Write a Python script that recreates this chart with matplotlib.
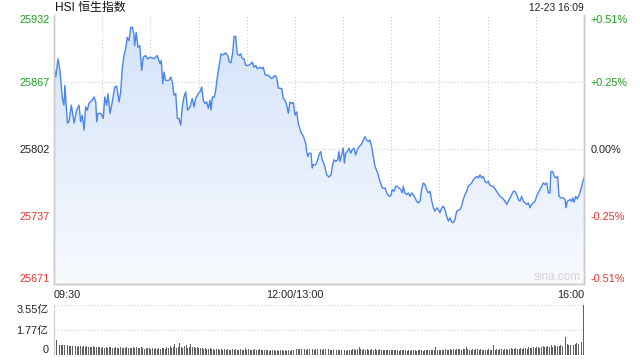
import numpy as np
import matplotlib
matplotlib.use('Agg')
import matplotlib.pyplot as plt
from matplotlib.colors import LinearSegmentedColormap
from matplotlib.patches import PathPatch

plt.rcParams['font.family'] = ['Liberation Sans', 'Noto Sans CJK SC']

title = 'HSI 恒生指数'
stamp = '12-23 16:09'

# trading minutes since 09:30 (lunch break removed) and index level
minutes = [0, 1.1, 2.5, 3.7, 5.2, 6.2, 6.8, 8.3, 9.3, 10.8, 12.5, 14.1, 15.6, 16.6, 17.6, 18.7,
           19.7, 20.7, 21.8, 23.8, 24.9, 26.0, 26.6, 27.4, 29.1, 30.7, 31.6, 32.8, 33.6, 34.9,
           36.3, 37.8, 39.0, 40.5, 41.5, 42.5, 43.6, 44.6, 45.6, 46.7, 47.8, 48.8, 49.8, 50.2,
           51.2, 52.3, 53.4, 54.6, 55.6, 57.1, 58.1, 60.2, 62.3, 64.3, 66.0, 66.8, 67.7, 68.5,
           69.5, 71.6, 72.7, 73.7, 74.7, 75.8, 76.8, 77.8, 78.9, 79.9, 80.9, 82.0, 83.2, 84.7,
           86.1, 87.2, 88.2, 89.8, 90.9, 92.0, 93.0, 94.0, 95.1, 96.1, 97.1, 97.8, 98.6, 99.8,
           100.7, 101.7, 102.7, 104.0, 105.4, 106.9, 108.2, 109.2, 110.2, 111.3, 112.1, 113.1,
           114.1, 115.4, 116.2, 117.2, 118.3, 119.4, 121.0, 122.5, 123.5, 124.5, 125.6, 126.6,
           128.3, 129.3, 130.3, 131.4, 133.4, 134.5, 135.5, 136.5, 137.6, 138.7, 139.7, 141.8,
           142.8, 143.8, 144.9, 145.9, 146.9, 148.0, 149.0, 150.1, 151.1, 152.1, 153.8, 155.2,
           156.7, 157.3, 158.0, 158.8, 160.0, 160.8, 161.4, 162.9, 163.9, 165.0, 166.1, 167.0,
           168.3, 169.8, 171.2, 172.5, 173.5, 174.3, 175.4, 176.6, 177.4, 178.1, 179.1, 180.1,
           180.8, 181.6, 182.6, 183.7, 184.7, 185.7, 186.8, 187.8, 188.8, 189.9, 191.1, 192.2,
           193.6, 194.7, 195.7, 196.7, 197.8, 198.8, 199.9, 201.9, 203.0, 204.4, 206.1, 207.2,
           208.6, 209.8, 210.6, 211.7, 212.8, 213.7, 214.8, 215.9, 216.9, 217.5, 218.5, 219.6,
           220.6, 221.7, 222.7, 223.7, 224.8, 225.8, 226.8, 227.9, 228.9, 229.9, 231.0, 232.1,
           233.0, 234.1, 235.2, 236.2, 237.2, 238.3, 239.3, 240.3, 241.4, 242.4, 243.4, 244.5,
           245.5, 246.6, 247.6, 248.6, 249.7, 250.7, 251.7, 252.8, 253.8, 254.8, 255.9, 256.9,
           257.9, 259.0, 260.1, 261.1, 262.1, 263.2, 264.2, 265.2, 266.3, 267.3, 268.4, 269.4,
           270.4, 271.5, 273.5, 275.6, 277.7, 279.7, 280.8, 281.9, 282.9, 283.9, 285.0, 286.0,
           287.0, 288.1, 289.1, 290.1, 291.2, 292.2, 293.3, 294.3, 295.3, 296.4, 297.4, 298.4,
           299.5, 300.5, 301.5, 302.6, 303.6, 304.7, 305.7, 306.8, 307.8, 308.8, 309.4, 310.5,
           311.5, 312.6, 313.6, 314.4, 315.7, 317.1, 318.2, 318.8, 319.6, 321.3, 322.3, 323.0,
           323.8, 324.8, 325.8, 327.1, 328.6, 329.6, 330.0]
prices = [25881.7, 25872.1, 25889.8, 25878.6, 25851.6, 25844.9, 25864.1, 25827.5, 25828.8, 25844.9,
          25827.5, 25840.0, 25844.9, 25828.8, 25835.2, 25820.8, 25843.2, 25840.0, 25846.8, 25849.7,
          25852.8, 25848.0, 25828.8, 25836.9, 25836.9, 25832.0, 25852.8, 25844.9, 25856.1, 25836.9,
          25848.0, 25862.5, 25863.4, 25848.0, 25857.7, 25880.2, 25893.0, 25899.5, 25910.6, 25907.4,
          25920.3, 25920.3, 25913.9, 25902.6, 25915.4, 25901.0, 25902.6, 25878.6, 25891.4, 25893.0,
          25889.8, 25891.4, 25889.8, 25893.0, 25885.0, 25888.2, 25865.7, 25876.9, 25868.9, 25868.9,
          25872.1, 25867.3, 25854.5, 25856.1, 25832.0, 25832.0, 25825.6, 25843.2, 25852.8, 25857.7,
          25840.0, 25843.2, 25851.3, 25843.2, 25851.3, 25856.1, 25857.7, 25862.5, 25849.7, 25846.5,
          25848.0, 25841.7, 25849.7, 25840.0, 25852.8, 25852.8, 25859.3, 25872.1, 25881.7, 25894.6,
          25893.7, 25895.6, 25893.0, 25886.6, 25886.0, 25896.2, 25911.6, 25911.6, 25894.6, 25893.0,
          25894.6, 25890.4, 25889.8, 25883.4, 25883.4, 25885.0, 25886.6, 25881.7, 25883.4, 25880.2,
          25881.7, 25880.2, 25881.7, 25874.4, 25873.7, 25872.1, 25870.6, 25872.1, 25873.7, 25871.1,
          25861.5, 25860.9, 25851.3, 25849.7, 25844.9, 25836.9, 25848.0, 25846.5, 25847.5, 25835.2,
          25838.4, 25827.2, 25818.4, 25815.0, 25808.0, 25799.9, 25795.1, 25798.3, 25798.3, 25783.9,
          25787.1, 25787.1, 25790.3, 25796.7, 25799.9, 25791.9, 25787.1, 25777.4, 25775.2, 25777.4,
          25787.1, 25791.9, 25790.3, 25791.9, 25799.9, 25790.3, 25796.7, 25803.2, 25788.7, 25798.3,
          25799.9, 25803.2, 25798.3, 25801.5, 25803.2, 25796.7, 25801.5, 25804.7, 25806.3, 25809.5,
          25814.3, 25811.1, 25809.5, 25811.1, 25804.7, 25795.1, 25785.4, 25777.4, 25771.0, 25764.6,
          25764.6, 25759.8, 25756.5, 25757.2, 25763.0, 25761.4, 25766.2, 25766.2, 25764.6, 25763.0,
          25759.8, 25766.2, 25759.8, 25758.2, 25759.8, 25756.5, 25759.8, 25758.2, 25755.0, 25751.7,
          25750.2, 25751.7, 25763.0, 25769.5, 25767.8, 25763.0, 25759.8, 25761.4, 25752.0, 25745.4,
          25742.1, 25745.4, 25743.7, 25740.6, 25745.4, 25746.9, 25743.7, 25737.3, 25732.5, 25735.7,
          25731.5, 25730.9, 25734.1, 25742.1, 25742.8, 25743.7, 25746.9, 25753.4, 25758.2, 25761.4,
          25766.2, 25767.8, 25769.5, 25772.6, 25774.3, 25775.8, 25774.3, 25777.4, 25774.3, 25775.8,
          25771.0, 25769.5, 25771.0, 25766.9, 25766.2, 25761.4, 25756.5, 25754.0, 25751.7, 25748.6,
          25751.7, 25755.0, 25758.2, 25761.4, 25761.4, 25758.2, 25753.4, 25751.7, 25756.5, 25751.7,
          25750.2, 25748.6, 25750.2, 25745.4, 25748.6, 25750.2, 25751.7, 25756.5, 25759.8, 25763.0,
          25766.2, 25769.5, 25767.8, 25769.5, 25759.8, 25759.8, 25780.6, 25780.6, 25775.8, 25774.3,
          25775.8, 25756.5, 25755.0, 25755.0, 25753.4, 25745.4, 25751.7, 25753.4, 25751.7, 25755.0,
          25750.8, 25756.5, 25754.0, 25758.2, 25766.2, 25772.6, 25774.3]

# volume per minute, 亿
volume = [2.72, 1.10, 0.78, 0.70, 0.72, 0.68, 0.70, 0.66, 0.70, 0.64, 0.66, 0.62, 0.68, 0.64, 0.60,
          0.66, 0.62, 0.58, 0.64, 0.60, 0.62, 0.56, 0.60, 0.58, 0.62, 0.55, 0.58, 0.54, 0.60, 0.52,
          0.56, 0.52, 0.58, 0.50, 0.54, 0.56, 0.50, 0.52, 0.58, 0.48, 0.52, 0.55, 0.50, 0.53, 0.49,
          0.56, 0.50, 0.52, 0.47, 0.54, 0.50, 0.58, 0.52, 0.48, 0.55, 0.50, 0.46, 0.52, 0.49, 0.50,
          0.46, 0.50, 0.44, 0.48, 0.45, 0.50, 0.43, 0.47, 0.52, 0.45, 0.55, 0.48, 0.62, 0.50, 0.58,
          0.78, 0.52, 0.60, 0.86, 0.55, 0.50, 0.62, 0.70, 0.52, 0.58, 0.80, 0.55, 0.60, 0.52, 0.56,
          0.50, 0.48, 0.52, 0.45, 0.50, 0.46, 0.42, 0.48, 0.40, 0.44, 0.38, 0.42, 0.40, 0.36, 0.44,
          0.38, 0.40, 0.37, 0.42, 0.35, 0.38, 0.40, 0.36, 0.42, 0.38, 0.34, 0.40, 0.36, 0.38, 0.48,
          0.36, 0.40, 0.34, 0.38, 0.36, 0.42, 0.33, 0.37, 0.40, 0.35, 0.38, 0.36, 0.33, 0.38, 0.30,
          0.35, 0.32, 0.36, 0.30, 0.34, 0.28, 0.32, 0.35, 0.30, 0.33, 0.29, 0.34, 0.31, 0.36, 0.38,
          0.95, 0.42, 0.45, 0.40, 0.44, 0.38, 0.46, 0.36, 0.42, 0.40, 0.38, 0.44, 0.36, 0.40, 0.45,
          0.38, 0.42, 0.35, 0.40, 0.43, 0.36, 0.40, 0.34, 0.38, 0.36, 0.33, 0.37, 0.35, 0.32, 0.36,
          0.34, 0.38, 0.30, 0.35, 0.33, 0.36, 0.40, 0.40, 0.36, 0.45, 0.58, 0.40, 0.36, 0.42, 0.38,
          0.40, 0.35, 0.38, 0.42, 0.36, 0.40, 0.38, 0.34, 0.40, 0.36, 0.38, 0.33, 0.36, 0.34, 0.38,
          0.35, 0.32, 0.36, 0.33, 0.35, 0.30, 0.34, 0.36, 0.32, 0.35, 0.31, 0.34, 0.30, 0.33, 0.36,
          0.32, 0.30, 0.35, 0.33, 0.36, 0.31, 0.34, 0.38, 0.35, 0.36, 0.33, 0.37, 0.34, 0.60, 0.36,
          0.35, 0.38, 0.33, 0.36, 0.40, 0.35, 0.38, 0.42, 0.36, 0.40, 0.37, 0.40, 0.40, 0.42, 0.38,
          0.44, 0.40, 0.58, 0.42, 0.38, 0.35, 0.40, 0.37, 0.42, 0.40, 0.36, 0.42, 0.38, 0.34, 0.38,
          0.36, 0.40, 0.35, 0.38, 0.70, 0.36, 0.40, 0.38, 0.44, 0.40, 0.36, 0.42, 0.45, 0.38, 0.42,
          0.48, 0.40, 0.45, 0.50, 0.42, 0.46, 0.52, 0.44, 0.48, 0.50, 0.46, 0.54, 0.48, 0.52, 0.56,
          0.50, 0.55, 0.60, 0.52, 0.58, 0.62, 0.55, 0.60, 0.66, 0.58, 0.72, 0.60, 0.68, 0.62, 0.64,
          0.66, 0.70, 0.62, 0.75, 1.30, 0.80, 0.70, 0.74, 0.82, 0.72, 0.78, 0.85, 0.80, 0.88, 0.90,
          3.55]

price_ticks = [25932, 25867, 25802, 25737, 25671]
pct_labels = ['+0.51%', '+0.25%', '0.00%', '-0.25%', '-0.51%']
tick_colors = ['#1ea01e', '#1ea01e', '#222222', '#e8302e', '#e8302e']
time_pos = [0, 150, 330]
time_labels = ['09:30', '12:00/13:00', '16:00']
vol_ticks = [3.55, 1.77, 0]
vol_labels = ['3.55亿', '1.77亿', '0']

ylo, yhi = 25671.5, 25932.3
grid_kw = dict(color='#cfcfcf', linestyle=(0, (1, 2)), linewidth=0.8)

fig = plt.figure(figsize=(6.4, 3.6), dpi=100)
ax = fig.add_axes([54 / 640, 1 - 284 / 360, 530 / 640, 269 / 360])
vax = fig.add_axes([54 / 640, 1 - 355 / 360, 530 / 640, 50 / 360])

# price line with gradient fill underneath
poly = ax.fill_between(minutes, prices, ylo, color='none')
patch = PathPatch(poly.get_paths()[0], transform=ax.transData, facecolor='none', edgecolor='none')
ax.add_patch(patch)
cmap = LinearSegmentedColormap.from_list('fill', ['#f8fafe', '#d3e2f9'])
grad = np.linspace(0, 1, 256).reshape(-1, 1)
im = ax.imshow(grad, extent=[0, 330, ylo, yhi], origin='lower', aspect='auto', cmap=cmap, zorder=1)
im.set_clip_path(patch)
ax.plot(minutes, prices, color='#4a86e8', linewidth=1.0, zorder=3)

ax.set_xlim(0, 330)
ax.set_ylim(ylo, yhi)
for m in range(30, 330, 30):
    ax.axvline(m, zorder=0, **grid_kw)
for p in price_ticks[1:4]:
    ax.axhline(p, zorder=0, **grid_kw)

ax.set_yticks([yhi, 25867, 25802, 25737, ylo])
ax.set_yticklabels([str(p) for p in price_ticks])
ax.tick_params(axis='y', length=0, pad=3, labelsize=7.8)
ylabels = ax.get_yticklabels()
for lab, c in zip(ylabels, tick_colors):
    lab.set_color(c)
ylabels[0].set_va('top')
ylabels[-1].set_va('bottom')

rax = ax.twinx()
rax.set_ylim(ylo, yhi)
rax.set_yticks([yhi, 25867, 25802, 25737, ylo])
rax.set_yticklabels(pct_labels)
rax.tick_params(axis='y', length=0, pad=5, labelsize=7.8)
rlabels = rax.get_yticklabels()
for lab, c in zip(rlabels, tick_colors):
    lab.set_color(c)
rlabels[0].set_va('top')
rlabels[-1].set_va('bottom')

ax.set_xticks(time_pos)
ax.set_xticklabels(time_labels)
ax.tick_params(axis='x', length=0, pad=4, labelsize=7.8, labelcolor='#222222')
xlabels = ax.get_xticklabels()
xlabels[0].set_ha('left')
xlabels[-1].set_ha('right')

for a in (ax, rax):
    a.spines['top'].set_visible(False)
    for s in ('left', 'right', 'bottom'):
        a.spines[s].set_color('#cccccc')
        a.spines[s].set_linewidth(1.0)

ax.text(0.995, 0.005, 'sina.com', transform=ax.transAxes, ha='right', va='bottom',
        fontsize=8.5, color='#d4d4d4', zorder=4)

fig.text(55 / 640, 1 - 8 / 360, title, ha='left', va='center', fontsize=8.6, color='#111111')
fig.text(584 / 640, 1 - 8 / 360, stamp, ha='right', va='center', fontsize=7.4, color='#222222')

# volume panel
vx = np.arange(len(volume))
vax.bar(vx, volume, width=0.6, color='#5f5f5f', linewidth=0)
vax.set_xlim(-0.5, 330.5)
vax.set_ylim(0, 3.55)
vax.axhline(3.55, **grid_kw)
vax.axhline(1.77, **grid_kw)
vax.set_xticks([])
vax.set_yticks(vol_ticks)
vax.set_yticklabels(vol_labels)
vax.tick_params(axis='y', length=0, pad=4, labelsize=7.8, labelcolor='#222222')
vlabels = vax.get_yticklabels()
vlabels[0].set_va('top')
vlabels[-1].set_va('bottom')
for s in ('top', 'right', 'bottom'):
    vax.spines[s].set_visible(False)
vax.spines['left'].set_color('#cccccc')

fig.savefig('out.png', dpi=100, facecolor='white')
